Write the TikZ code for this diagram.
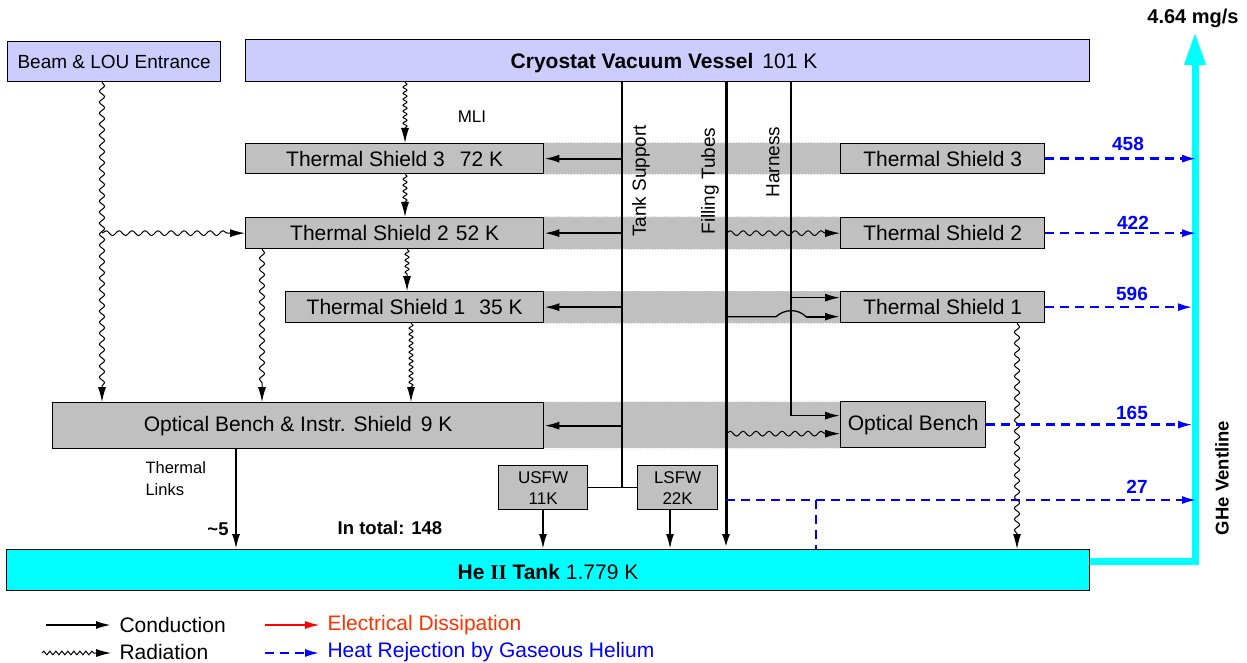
\documentclass[tikz,border=0pt]{standalone}
\usepackage{fontspec}
\setmainfont{Liberation Sans}
\newfontfamily\serifrm{Liberation Serif}
\usetikzlibrary{arrows.meta,decorations.pathmorphing,calc,backgrounds}
\definecolor{lav}{RGB}{204,204,255}
\definecolor{gbox}{RGB}{192,192,192}
\definecolor{cy}{RGB}{0,255,255}
\definecolor{bl}{RGB}{0,0,255}
\definecolor{redor}{RGB}{255,51,0}
\begin{document}
\begin{tikzpicture}[x=1pt,y=-1pt,
  font=\fontsize{21}{25}\selectfont,
  box/.style={draw=black, line width=1.3pt, fill=gbox, inner sep=0pt, anchor=north west},
  lbox/.style={box, fill=lav},
  band/.style={draw=gray!35, dotted, line width=1pt},
  tipc/.style={-{Latex[length=15pt,width=8pt]}},
  cond/.style={tipc, line width=2pt},
  rad/.style={tipc, line width=1pt, decorate, decoration={snake, amplitude=2.6pt, segment length=11pt, post length=14pt}},
  rads/.style={tipc, line width=1pt, decorate, decoration={snake, amplitude=2pt, segment length=6pt, post length=14pt}},
  radh/.style={tipc, line width=1pt, decorate, decoration={snake, amplitude=2.4pt, segment length=13pt, post length=14pt}},
  heat/.style={-{Latex[length=15pt,width=8pt]}, draw=bl, line width=2.5pt, dash pattern=on 9pt off 6pt},
  num/.style={text=bl, font=\fontsize{19}{22}\selectfont\bfseries},
  vlab/.style={rotate=90, font=\fontsize{19}{22}\selectfont},
]
\useasboundingbox (0,0) rectangle (1247,663);

% helper coordinates
\coordinate (tsX) at (622,0);
\coordinate (ftX) at (726,0);
\coordinate (hX) at (791,0);
\coordinate (bX) at (102,0);
\coordinate (x405) at (405,0);
\coordinate (x407) at (407,0);
\coordinate (x411) at (411,0);
\coordinate (x262) at (262,0);
\coordinate (x236) at (236,0);
\coordinate (x543) at (543,0);
\coordinate (x670) at (670,0);
\coordinate (x816) at (816,0);
\coordinate (x1017) at (1017,0);
\coordinate (xvs) at (1089,0);
\coordinate (vX) at (1197,0);
\coordinate (vX1) at (1193,0);
\coordinate (y27) at (0,500);
\coordinate (vbot) at (1195,561);
\coordinate (vtop) at (1195,32);

% boxes
\node[lbox, minimum width=213pt, minimum height=40pt, font=\fontsize{19}{23}\selectfont] (beam) at (7,41) {Beam \& LOU Entrance};
\node[lbox, minimum width=844pt, minimum height=42pt] (cvv) at (245,39) {};
\node (cvvt) at (664,63) {\bfseries Cryostat Vacuum Vessel\hspace{9pt}\mdseries 101 K};

\node[box, minimum width=298pt, minimum height=30pt] (ts3L) at (245,143) {Thermal Shield 3\hspace{15pt}72 K};
\node[box, minimum width=204pt, minimum height=30pt] (ts3R) at (840,143) {Thermal Shield 3};
\node[box, minimum width=298pt, minimum height=31pt] (ts2L) at (245,217) {Thermal Shield 2\hspace{7pt}52 K};
\node[box, minimum width=204pt, minimum height=31pt] (ts2R) at (840,217) {Thermal Shield 2};
\node[box, minimum width=258pt, minimum height=31pt] (ts1L) at (285,291) {Thermal Shield 1\hspace{14pt}35 K};
\node[box, minimum width=204pt, minimum height=31pt] (ts1R) at (840,291) {Thermal Shield 1};
\node[box, minimum width=491pt, minimum height=46pt] (obL) at (52,402) {Optical Bench \& Instr. Shield\hspace{9pt}9 K};
\node[box, minimum width=145pt, minimum height=46pt] (obR) at (840,401) {Optical Bench};

\node[box, minimum width=89pt, minimum height=44pt, align=center, font=\fontsize{17}{21}\selectfont] (usfw) at (498,465) {USFW\\11K};
\node[box, minimum width=80pt, minimum height=44pt, align=center, font=\fontsize{17}{21}\selectfont] (lsfw) at (637,465) {LSFW\\22K};

% bands and ventline behind
\begin{scope}[on background layer]
\fill[white] (0,0) rectangle (1247,663);
\foreach \a/\b in {ts3L/ts3R, ts2L/ts2R, ts1L/ts1R, obL/obR}{
  \fill[gbox] (\a.north east) rectangle (\b.south west);
  \draw[band] (\a.north east) -- (\b.north west) (\a.south east) -- (\b.south west);
}
\draw[cy, line width=7pt, -{Triangle[length=33pt,width=20pt]}] (vbot -| xvs) -- (vbot) -- (vtop);
\end{scope}

\node[box, fill=cy, minimum width=1083pt, minimum height=41pt] (tank) at (6,549) {};
\node (tankt) at (548,572) {\bfseries He {\serifrm\bfseries II} Tank\hspace{6pt}\mdseries 1.779 K};

% vertical conductors
\draw[line width=2.2pt] (cvv.south -| tsX) -- (tsX |- usfw.east);
\draw[line width=1.3pt] (usfw.east) -- (lsfw.west);
\draw[line width=3pt, tipc] (cvv.south -| ftX) -- (tank.north -| ftX);
\draw[line width=1.6pt, tipc] (cvv.south -| hX) |- ([yshift=9pt]obR.west);
\draw[line width=1.6pt, tipc] (hX |- ts1R.west) ++(0,-9.5) coordinate (hb) -- ([yshift=9.5pt]ts1R.west);
\draw[line width=1.3pt] (ftX |- ts1R.west) ++(0,9.5) coordinate (fb) -- ++(50,0) coordinate (fh1)
   .. controls ($(fh1)+(9,-8)$) and ($(fh1)+(22,-8)$) .. ($(fh1)+(30,0)$) coordinate (fh2);
\draw[cond] (fh2) -- ([yshift=-9.5pt]ts1R.west);
\draw[radh] (ftX |- ts2R.west) -- (ts2R.west);
\draw[radh] (ftX |- obR.west) ++(0,9) coordinate (fo) -- ([yshift=-9pt]obR.west);

% tank support branches
\draw[cond] (tsX |- ts3L.east) -- (ts3L.east);
\draw[cond] (tsX |- ts2L.east) -- (ts2L.east);
\draw[cond] (tsX |- ts1L.east) -- (ts1L.east);
\draw[cond] (tsX |- obL.east) -- (obL.east);

% vertical labels
\node[vlab] (lts) at (641,181) {Tank Support};
\node[vlab] (lft) at (710,181) {Filling Tubes};
\node[vlab] (lha) at (773,162) {Harness};
\node[font=\fontsize{17}{20}\selectfont] (mli) at (472,117) {MLI};

% radiation
\draw[rads] (cvv.south -| x405) -- (ts3L.north -| x405);
\draw[rads] (ts3L.south -| x405) -- (ts2L.north -| x405);
\draw[rads] (ts2L.south -| x407) -- (ts1L.north -| x407);
\draw[rads] (ts1L.south -| x411) -- (obL.north -| x411);
\draw[rad] (ts2L.south -| x262) -- (obL.north -| x262);
\draw[rad] (beam.south -| bX) -- (obL.north -| bX);
\draw[radh] (bX |- ts2L.west) -- (ts2L.west);
\draw[rad] (ts1R.south -| x1017) -- (tank.north -| x1017);

% conduction to tank
\draw[cond] (obL.south -| x236) -- (tank.north -| x236);
\draw[cond] (usfw.south -| x543) -- (tank.north -| x543);
\draw[cond] (lsfw.south -| x670) -- (tank.north -| x670);

% texts
\node[align=left, anchor=west, font=\fontsize{16.5}{22}\selectfont] (tl) at (142,479) {Thermal\\Links};
\node[font=\fontsize{18.5}{22}\selectfont\bfseries] (t5) at (218,529) {\textasciitilde5};
\node[font=\fontsize{18.5}{22}\selectfont\bfseries] (tot) at (390,528) {In total: 148};
\node[font=\fontsize{20}{24}\selectfont\bfseries] (mgs) at (1193,18) {4.64 mg/s};
\node[rotate=90, font=\fontsize{18.5}{22}\selectfont\bfseries] (ghe) at (1222,478) {GHe Ventline};

% heat rejection
\draw[heat] (ts3R.east) -- (ts3R.east -| vX);
\draw[heat] (ts2R.east) -- (ts2R.east -| vX);
\draw[heat] (ts1R.east) -- (ts1R.east -| vX1);
\draw[heat] (obR.east) -- (obR.east -| vX1);
\draw[heat] (ftX |- y27) -- (vX |- y27);
\draw[bl, line width=2.5pt, dash pattern=on 9pt off 6pt] (x816 |- y27) -- (tank.north -| x816);
\node[num] (n458) at (1128,144) {458};
\node[num] (n422) at (1133,223) {422};
\node[num] (n596) at (1132,294) {596};
\node[num] (n165) at (1132,413) {165};
\node[num] (n27) at (1137,487) {27};

% legend
\coordinate (lc1) at (46,625); \coordinate (lc2) at (111,625);
\coordinate (lr1) at (42,653); \coordinate (lr2) at (111,653);
\coordinate (le1) at (265,625); \coordinate (le2) at (320,625);
\coordinate (lh1) at (265,653); \coordinate (lh2) at (320,653);
\draw[cond] (lc1) -- (lc2);
\draw[tipc, line width=1pt, decorate, decoration={snake, amplitude=1.8pt, segment length=6pt, post length=16pt}] (lr1) -- (lr2);
\draw[cond, red] (le1) -- (le2);
\draw[heat] (lh1) -- (lh2);
\node[anchor=west] (lgc) at (116,625) {Conduction};
\node[anchor=west] (lgr) at (116,652) {Radiation};
\node[anchor=west, text=redor] (lge) at (324,625) {Electrical Dissipation};
\node[anchor=west, text=bl] (lgh) at (324,652) {Heat Rejection by Gaseous Helium};
\end{tikzpicture}
\end{document}
